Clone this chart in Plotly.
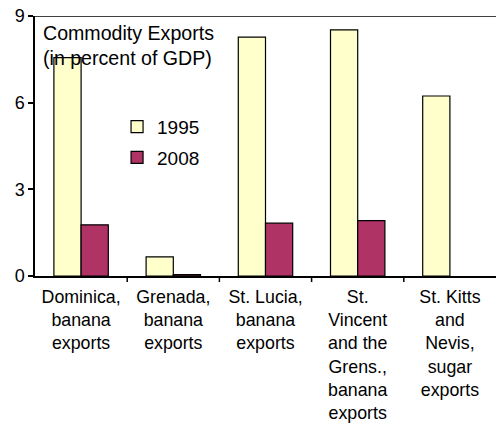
import plotly.graph_objects as go

categories = [
    "Dominica,<br>banana<br>exports",
    "Grenada,<br>banana<br>exports",
    "St. Lucia,<br>banana<br>exports",
    "St.<br>Vincent<br>and the<br>Grens.,<br>banana<br>exports",
    "St. Kitts<br>and<br>Nevis,<br>sugar<br>exports",
]
values_1995 = [7.56, 0.66, 8.27, 8.52, 6.23]
values_2008 = [1.77, 0.05, 1.83, 1.92, None]
y_ticks = [0, 3, 6, 9]

FONT = "Liberation Sans, Arial, sans-serif"

fig = go.Figure()
fig.add_trace(go.Bar(
    name="1995", x=categories, y=values_1995, legendgroup="a",
    marker=dict(color="#FFFFCC", line=dict(color="black", width=1.2)),
))
fig.add_trace(go.Bar(
    name="2008", x=categories, y=values_2008, legendgroup="b",
    marker=dict(color="#B03366", line=dict(color="black", width=1.2)),
))

# short tick marks on the category boundaries (each category spans 1/n of the axis)
n = len(categories)
boundary_ticks = [
    dict(type="line", xref="paper", yref="paper", ysizemode="pixel", yanchor=0,
         x0=i / n, x1=i / n, y0=0, y1=-6,
         line=dict(color="black", width=1.5))
    for i in range(1, n)
]

fig.update_layout(
    width=496, height=429,
    margin=dict(l=35, r=0, t=16, b=153),
    paper_bgcolor="white", plot_bgcolor="white",
    font=dict(family=FONT, size=18, color="black"),
    barmode="group", bargap=0.41, bargroupgap=0,
    showlegend=True,
    legend=dict(x=0.178, y=0.647, xanchor="left", yanchor="top",
                bgcolor="rgba(0,0,0,0)", font=dict(size=19),
                tracegroupgap=3),
    xaxis=dict(
        type="category", showline=True, linecolor="black", linewidth=1.5,
        ticks="", showgrid=False, tickfont=dict(size=17.8),
        ticklabelstandoff=4,
    ),
    yaxis=dict(
        range=[0, 9], tickvals=y_ticks, showline=True, linecolor="black",
        linewidth=1.5, ticks="outside", ticklen=5, tickcolor="black",
        tickwidth=1.5, showgrid=False, zeroline=False, tickfont=dict(size=18),
    ),
    shapes=[dict(type="line", xref="paper", yref="y", x0=0, x1=1, y0=9, y1=9,
                 line=dict(color="black", width=1.5))] + boundary_ticks,
    annotations=[dict(
        text="Commodity Exports<br>(in percent of GDP)", xref="paper", yref="paper",
        x=0.012, y=0.985, xanchor="left", yanchor="top", showarrow=False,
        align="left", font=dict(size=19.6),
    )],
)

fig.write_html("out.html")
